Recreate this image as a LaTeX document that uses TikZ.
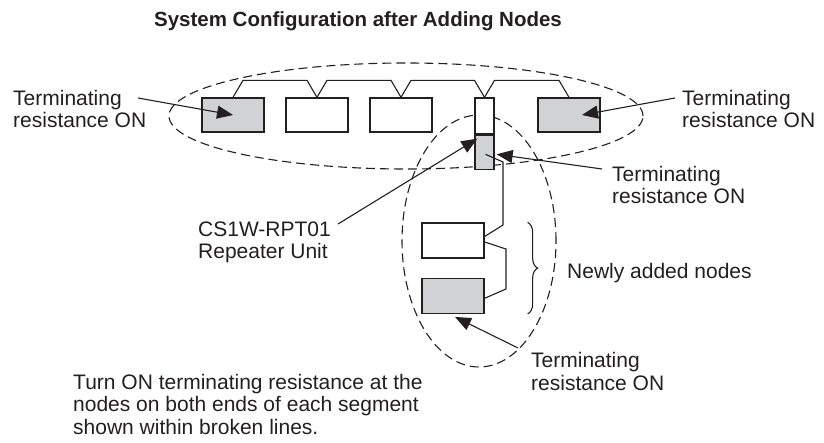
\documentclass[tikz,border=0pt]{standalone}
\usepackage{fontspec}
\setmainfont{Liberation Sans}
\usepackage{xcolor}
\usetikzlibrary{arrows.meta,positioning,shapes.geometric,decorations.pathreplacing}
\definecolor{unitgray}{RGB}{209,210,212}
\definecolor{ink}{RGB}{35,31,32}

\begin{document}
\begin{tikzpicture}[
  x=1pt, y=-1pt,
  font=\fontsize{21}{22.5}\selectfont,
  unit/.style={draw=ink,fill=white,line width=1.3pt,minimum width=62pt,minimum height=34pt,inner sep=0pt},
  termunit/.style={unit,fill=unitgray},
  segment/.style={draw=ink,dashed,dash pattern=on 9pt off 5pt,ellipse,inner sep=0pt,line width=1.1pt},
  txt/.style={align=left,anchor=base west,inner sep=0pt,text=ink},
  wire/.style={draw=ink,line width=1.1pt},
  pointer/.style={draw=ink,line width=1.1pt,-{Triangle[length=16pt,width=13pt]}}
]
\useasboundingbox (0,0) rectangle (824,443);
\node[font=\bfseries\fontsize{20.5}{22}\selectfont,text=ink,anchor=base] (title) at (358,27) {System Configuration after Adding Nodes};

% broken-line segments
\node[segment,minimum width=474pt,minimum height=106pt] (segTop) at (406,116) {};
\node[segment,minimum width=154pt,minimum height=252pt] (segNew) at (479,241) {};

% units on the main line
\node[termunit] (t1) at (233,115) {};
\node[unit] (n2) at (317,115) {};
\node[unit] (n3) at (401,115) {};
\node[unit,minimum width=19pt,minimum height=36pt] (rpU) at (484.5,116) {};
\node[termunit,minimum width=19pt,below=0pt of rpU] (rpL) {};
\node[termunit] (t5) at (569,115) {};

% newly added units
\node[unit,minimum height=35pt] (nA) at (453,240.5) {};
\node[termunit,minimum height=35pt,below=19pt of nA] (nB) {};

% cable
\foreach \a/\b in {t1/n2,n2/n3,n3/rpU,rpU/t5}
  \draw[wire] (\a.north) -- ++(10,-17) -- ([shift={(-10,-17)}]\b.north) -- (\b.north);
\draw[wire] ([shift={(1,2)}]rpL.center) -- (503,162) -- (503,225) -- ([yshift=4pt]nA.east);
\draw[wire] ([yshift=-1.5pt]nA.east) -- (506,249) -- (506,289) -- ([yshift=-2.5pt]nB.east);
\draw[wire,decorate,decoration={brace,amplitude=10pt}] ([xshift=43pt]nA.north east) -- ([xshift=43pt]nB.south east);

% labels (base = last line)
\node[txt] (lblL) at (13,128) {Terminating\\resistance ON};
\node[txt] (lblR) at (682,128) {Terminating\\resistance ON};
\node[txt] (lblRp) at (612,204) {Terminating\\resistance ON};
\node[txt] (lblCS) at (198,259) {CS1W-RPT01\\Repeater Unit};
\node[txt] (lblNew) at (567,279) {Newly added nodes};
\node[txt] (lblB) at (531,390) {Terminating\\resistance ON};
\node[txt] (note) at (73,434) {Turn ON terminating resistance at the\\nodes on both ends of each segment\\shown within broken lines.};

\coordinate (fromL) at (138,98);
\coordinate (fromR) at (675,98);
\coordinate (fromRp) at (602,169);
\coordinate (fromCS) at (338,224);
\coordinate (fromB) at (518,348);
\draw[pointer] (fromL) -- (t1.center);
\draw[pointer] (fromR) -- ([xshift=13pt]t5.center);
\draw[pointer] (fromRp) -- ([shift={(2,2)}]rpL.east);
\draw[pointer] (fromCS) -- ([shift={(3,4)}]rpL.north west);
\draw[pointer] (fromB) -- ([shift={(2,3)}]nB.south);
\end{tikzpicture}
\end{document}
